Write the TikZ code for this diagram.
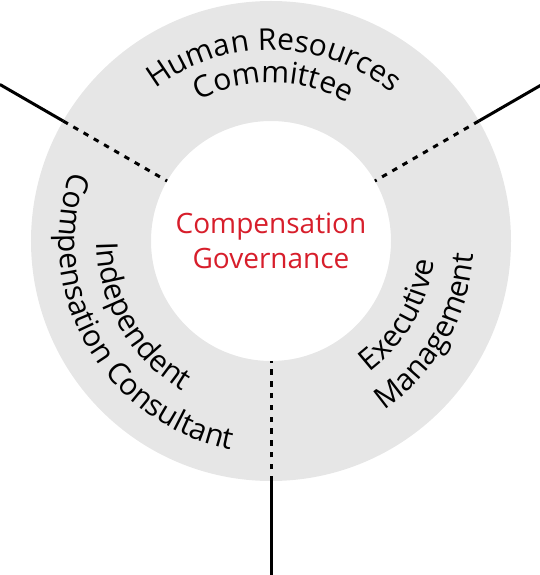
\documentclass[tikz,border=0pt]{standalone}
\usepackage{fontspec}
\setmainfont{Open Sans}
\usetikzlibrary{decorations.text}
\definecolor{ringgray}{HTML}{E6E6E6}
\definecolor{govred}{HTML}{D71E2B}
\newcommand\labfont{\fontsize{30}{36}\selectfont}
\newcommand\govfont{\fontsize{28}{35}\selectfont}
\tikzset{
  solidline/.style={line width=3pt, black},
  dotline/.style={line width=3pt, black, dash pattern=on 5.5pt off 6.3pt},
  arclabel/.style={decorate, decoration={text along path, text align=center, text={#1}}}
}
\begin{document}
\begin{tikzpicture}[x=1pt,y=1pt]
\useasboundingbox (-271,-334) rectangle (269,241);
% ring
\fill[ringgray, even odd rule] (0,0) circle[radius=240] (0,0) circle[radius=120];
% divider coordinates
\coordinate (tlo) at (150:313);
\coordinate (tle) at (150:240);
\coordinate (tli) at (150:120);
\coordinate (tro) at (30:311);
\coordinate (tre) at (30:240);
\coordinate (tri) at (30:120);
\coordinate (bo) at (270:334);
\coordinate (be) at (270:240);
\coordinate (bi) at (270:120);
\draw[solidline] (tlo) -- (tle);
\draw[dotline] (tle) -- (tli);
\draw[solidline] (tro) -- (tre);
\draw[dotline] (tre) -- (tri);
\draw[solidline] (bo) -- (be);
\draw[dotline] (be) -- (bi);
% centre label
\node[text=govred, font=\govfont, align=center] (gov) at (0,0) {Compensation\\Governance};
% top segment
\path[arclabel={|\labfont|Human Resources}] (149:191) arc[start angle=149, end angle=29, radius=191];
\path[arclabel={|\labfont|Committee}] (149:158) arc[start angle=149, end angle=29, radius=158];
% left segment
\path[arclabel={|\labfont|Independent}] (150:174) arc[start angle=150, end angle=270, radius=174];
\path[arclabel={|\labfont|Compensation Consultant}] (150:212) arc[start angle=150, end angle=270, radius=212];
% right segment
\path[arclabel={|\labfont|Executive}] (-90:164) arc[start angle=-90, end angle=30, radius=164];
\path[arclabel={|\labfont|Management}] (-90:203) arc[start angle=-90, end angle=30, radius=203];
\end{tikzpicture}
\end{document}
